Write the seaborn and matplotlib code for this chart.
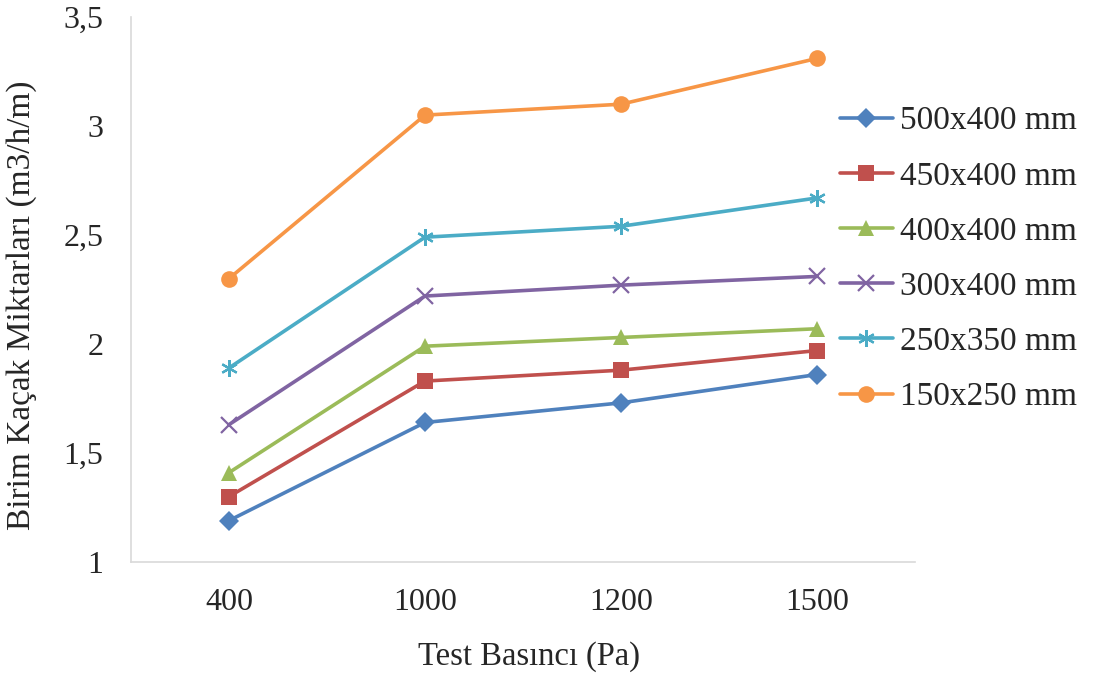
import matplotlib
matplotlib.use("Agg")
import matplotlib.pyplot as plt
import seaborn as sns

# Test pressures (categories) and unit leakage per duct size
pressures = ["400", "1000", "1200", "1500"]
labels = ["500x400 mm", "450x400 mm", "400x400 mm", "300x400 mm", "250x350 mm", "150x250 mm"]
s500x400 = [1.19, 1.64, 1.73, 1.86]
s450x400 = [1.30, 1.83, 1.88, 1.97]
s400x400 = [1.41, 1.99, 2.03, 2.07]
s300x400 = [1.63, 2.22, 2.27, 2.31]
s250x350 = [1.89, 2.49, 2.54, 2.67]
s150x250 = [2.30, 3.05, 3.10, 3.31]
y_ticks = [1, 1.5, 2, 2.5, 3, 3.5]
y_tick_labels = ["1", "1,5", "2", "2,5", "3", "3,5"]

series = [s500x400, s450x400, s400x400, s300x400, s250x350, s150x250]
colors = ["#4F81BD", "#C0504D", "#9BBB59", "#8064A2", "#4BACC6", "#F79646"]
markers = ["D", "s", "^", "x", (6, 2, 0), "o"]
msizes = [10, 11, 11, 11, 12, 12]

sns.set_theme(style="white")
plt.rcParams["font.family"] = ["Liberation Serif", "DejaVu Serif"]

fig = plt.figure(figsize=(10.94, 6.75), dpi=100)
ax = fig.add_axes([0.1197, 0.1674, 0.7167, 0.8074])

for vals, lab, col, mk, ms in zip(series, labels, colors, markers, msizes):
    unfilled = mk == "x" or isinstance(mk, tuple)
    sns.lineplot(x=pressures, y=vals, ax=ax, color=col, label=lab,
                 linewidth=2.6, marker=mk, markersize=ms,
                 markeredgewidth=1.6 if unfilled else 0,
                 markeredgecolor=col, markerfacecolor=col, sort=False)

ax.set_xlim(-0.5, 3.5)
ax.set_ylim(1, 3.5)
ax.set_yticks(y_ticks)
ax.set_yticklabels(y_tick_labels)
ax.tick_params(axis="x", labelsize=23, pad=19, length=0)
ax.tick_params(axis="y", labelsize=23, pad=20, length=0)

ax.set_xlabel("Test Basıncı (Pa)", fontsize=23.5, labelpad=17)
ax.set_ylabel("Birim Kaçak Miktarları (m3/h/m)", fontsize=24, labelpad=14)
ax.yaxis.set_label_coords(-0.12, 0.472)
ax.xaxis.label.set_x(0.508)

for side in ["top", "right"]:
    ax.spines[side].set_visible(False)
for side in ["left", "bottom"]:
    ax.spines[side].set_color("#D9D9D9")
    ax.spines[side].set_linewidth(1.2)

ax.legend(loc="upper left", bbox_to_anchor=(0.904, 0.837), frameon=False,
          fontsize=24, handlelength=1.6, handletextpad=0.2,
          labelspacing=0.74, borderaxespad=0, borderpad=0)

fig.savefig("out.png", dpi=100)
